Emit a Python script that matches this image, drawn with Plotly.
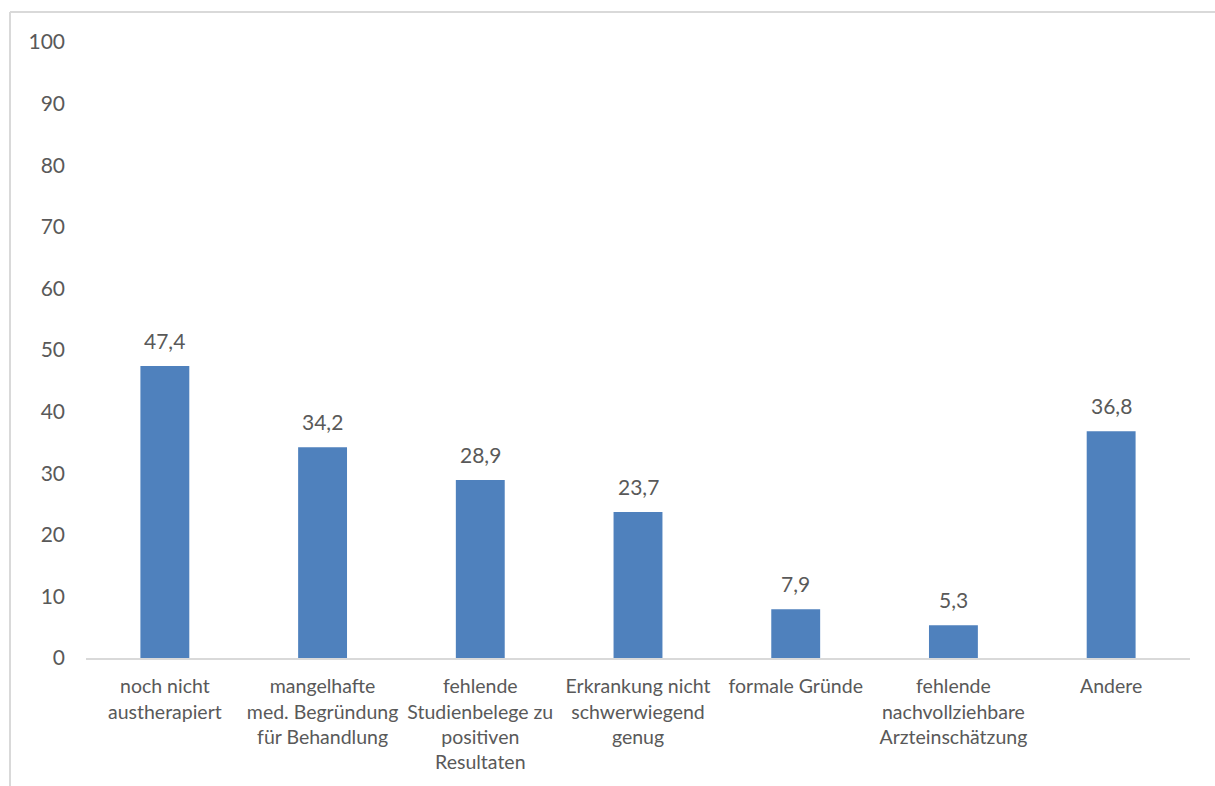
import plotly.graph_objects as go

categories = [
    "noch nicht<br>austherapiert",
    "mangelhafte<br>med. Begründung<br>für Behandlung",
    "fehlende<br>Studienbelege zu<br>positiven<br>Resultaten",
    "Erkrankung nicht<br>schwerwiegend<br>genug",
    "formale Gründe",
    "fehlende<br>nachvollziehbare<br>Arzteinschätzung",
    "Andere",
]
values = [47.4, 34.2, 28.9, 23.7, 7.9, 5.3, 36.8]
y_ticks = [0, 10, 20, 30, 40, 50, 60, 70, 80, 90, 100]

FONT = "Lato, 'Open Sans', sans-serif"
TEXT_COLOR = "#595959"
BAR_COLOR = "#4f81bd"

W, H = 1215, 786
ML, MR, MT, MB = 86, 25, 42, 128
pw, ph = W - ML - MR, H - MT - MB

fig = go.Figure(
    go.Bar(
        x=list(range(len(categories))),
        y=values,
        marker=dict(color=BAR_COLOR, line=dict(width=0)),
        hoverinfo="skip",
    )
)

# value labels above each bar
for i, v in enumerate(values):
    fig.add_annotation(
        x=i, y=v, text=f"{v:.1f}".replace(".", ","),
        showarrow=False, yanchor="bottom", yshift=11,
        font=dict(family=FONT, size=21, color=TEXT_COLOR),
    )

# outer chart frame (left and top edges visible)
fx0 = (10 - ML) / pw
fy1 = 1 + (MT - 12) / ph
fig.add_shape(type="line", xref="paper", yref="paper",
              x0=fx0, x1=fx0, y0=-1, y1=fy1,
              line=dict(color="#d9d9d9", width=2))
fig.add_shape(type="line", xref="paper", yref="paper",
              x0=fx0, x1=2, y0=fy1, y1=fy1,
              line=dict(color="#d9d9d9", width=2))

fig.update_layout(
    width=W, height=H,
    margin=dict(l=ML, r=MR, t=MT, b=MB),
    paper_bgcolor="white", plot_bgcolor="white",
    bargap=0.69,
    showlegend=False,
    font=dict(family=FONT, size=20, color=TEXT_COLOR),
    xaxis=dict(
        tickmode="array",
        tickvals=list(range(len(categories))),
        ticktext=categories,
        range=[-0.5, len(categories) - 0.5],
        showgrid=False, zeroline=False,
        showline=True, linecolor="#d9d9d9", linewidth=2,
        ticks="", ticklabelstandoff=10,
        tickfont=dict(family=FONT, size=19.5, color=TEXT_COLOR),
        fixedrange=True,
    ),
    yaxis=dict(
        range=[0, 100],
        tickmode="array", tickvals=y_ticks,
        showgrid=False, zeroline=False, showline=False,
        ticks="", ticklabelstandoff=20,
        tickfont=dict(family=FONT, size=21, color=TEXT_COLOR),
        fixedrange=True,
    ),
)

fig.write_html("out.html", config={"displayModeBar": False})
